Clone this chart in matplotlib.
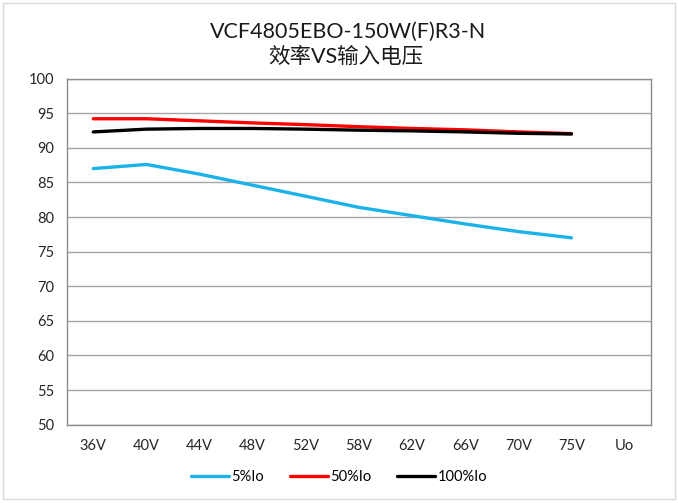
import matplotlib
matplotlib.use("Agg")
import matplotlib.pyplot as plt
from matplotlib.patches import Rectangle

plt.rcParams['font.family'] = ['Lato', 'Noto Sans CJK SC', 'DejaVu Sans']

categories = ["36V", "40V", "44V", "48V", "52V", "58V", "62V", "66V", "70V", "75V", "Uo"]
load_5 = [87.0, 87.6, 86.2, 84.6, 83.0, 81.4, 80.2, 79.0, 77.9, 77.0]
load_50 = [94.2, 94.2, 93.9, 93.6, 93.35, 93.05, 92.8, 92.6, 92.3, 92.05]
load_100 = [92.3, 92.7, 92.8, 92.8, 92.7, 92.55, 92.45, 92.3, 92.1, 92.0]
yticks = [50, 55, 60, 65, 70, 75, 80, 85, 90, 95, 100]


def main():
    fig = plt.figure(figsize=(6.78, 5.03), dpi=100)
    fig.patches.append(Rectangle((0.004, 0.008), 0.992, 0.986, transform=fig.transFigure,
                                 fill=False, edgecolor="#d9d9d9", linewidth=1))
    ax = fig.add_axes([0.0984, 0.1557, 0.862, 0.688])

    x = list(range(len(load_5)))
    ax.plot(x, load_5, color="#1bb1e9", linewidth=2.4, label="5%Io", solid_capstyle="round")
    ax.plot(x, load_50, color="#ff0000", linewidth=2.4, label="50%Io", solid_capstyle="round")
    ax.plot(x, load_100, color="#000000", linewidth=2.4, label="100%Io", solid_capstyle="round")

    ax.set_xlim(-0.5, len(categories) - 0.5)
    ax.set_ylim(50, 100)
    ax.set_xticks(range(len(categories)))
    ax.set_xticklabels(categories)
    ax.set_yticks(yticks)
    ax.tick_params(length=0, labelsize=10.5, colors="#262626")
    ax.tick_params(axis="y", pad=9)
    ax.tick_params(axis="x", pad=10)
    ax.grid(axis="y", color="#a6a6a6", linewidth=1)
    ax.set_axisbelow(True)
    for s in ax.spines.values():
        s.set_color("#8c8c8c")
        s.set_linewidth(1)

    fig.text(0.514, 0.937, "VCF4805EBO-150W(F)R3-N", ha="center", va="center", fontsize=15.5, color="#1a1a1a")
    fig.text(0.51, 0.886, "效率VS输入电压", ha="center", va="center", fontsize=15.5, color="#1a1a1a")

    fig.legend(loc="center", bbox_to_anchor=(0.5, 0.052), ncol=3, frameon=False,
               fontsize=10.5, handlelength=2.6, handletextpad=0.15, columnspacing=1.8)

    fig.savefig("out.png", dpi=100)


if __name__ == '__main__':
    main()
